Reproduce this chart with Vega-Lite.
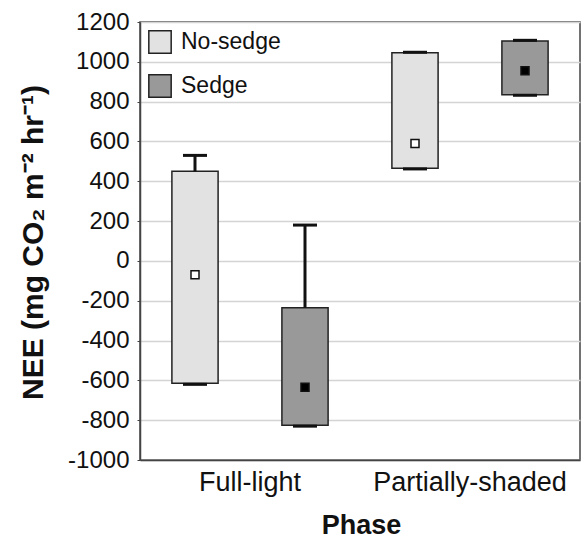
{
  "$schema": "https://vega.github.io/schema/vega-lite/v6.json",
  "width": 440,
  "height": 438,
  "autosize": "none",
  "padding": {"left": 140, "top": 22, "right": 1, "bottom": 82},
  "background": "white",
  "config": {
    "font": "Liberation Sans",
    "view": {"stroke": "#444", "strokeWidth": 1.5}
  },
  "data": {
    "values": [
      {"phase": "Full-light", "group": "No-sedge", "low": -620, "q1": -615, "mean": -70, "q3": 450, "high": 530},
      {"phase": "Full-light", "group": "Sedge", "low": -830, "q1": -825, "mean": -635, "q3": -235, "high": 180},
      {"phase": "Partially-shaded", "group": "No-sedge", "low": 462, "q1": 465, "mean": 590, "q3": 1045, "high": 1048},
      {"phase": "Partially-shaded", "group": "Sedge", "low": 832, "q1": 835, "mean": 955, "q3": 1105, "high": 1108}
    ]
  },
  "encoding": {
    "x": {
      "field": "phase", "type": "nominal",
      "scale": {"domain": ["Full-light", "Partially-shaded"], "paddingInner": 0, "paddingOuter": 0},
      "axis": {
        "title": "Phase", "labelAngle": 0, "labelFontSize": 27, "labelColor": "#111",
        "labelPadding": 9, "labelLimit": 400, "tickSize": 0, "domainColor": "#444", "domainWidth": 1.5,
        "titleFontSize": 27, "titleFontWeight": "bold", "titleColor": "#111",
        "titleBaseline": "alphabetic", "titleY": 73, "titleX": 221
      }
    },
    "xOffset": {
      "field": "group", "type": "nominal",
      "scale": {"domain": ["No-sedge", "Sedge"], "paddingInner": 0.58, "paddingOuter": 0.29}
    }
  },
  "layer": [
    {
      "mark": {"type": "bar", "stroke": "#222", "strokeWidth": 1.5},
      "encoding": {
        "y": {
          "field": "q1", "type": "quantitative",
          "scale": {"domain": [-1000, 1200], "nice": false, "zero": false},
          "axis": {
            "values": [-1000, -800, -600, -400, -200, 0, 200, 400, 600, 800, 1000, 1200],
            "tickCount": 20,
            "labelExpr": "'' + datum.value",
            "labelOverlap": false, "labelFlush": false,
            "title": "NEE (mg CO₂ m⁻² hr⁻¹)",
            "labelFontSize": 24, "labelColor": "#111", "labelPadding": 8,
            "tickSize": 3, "tickColor": "#444", "domainColor": "#444", "domainWidth": 1.5,
            "grid": true, "gridColor": "#d4d4d4", "gridWidth": 1.5,
            "titleFontSize": 30, "titleFontWeight": "bold", "titleColor": "#111",
            "titleAngle": -90, "titleAlign": "center", "titleBaseline": "middle",
            "titleX": -107, "titleY": 220
          }
        },
        "y2": {"field": "q3"},
        "fill": {
          "field": "group", "type": "nominal",
          "scale": {"domain": ["No-sedge", "Sedge"], "range": ["#e2e2e2", "#999999"]},
          "legend": {
            "title": null, "orient": "top-left", "offset": 8, "padding": 0,
            "symbolType": "square", "symbolSize": 500, "symbolStrokeColor": "#222",
            "symbolStrokeWidth": 1.5, "labelFontSize": 23, "labelColor": "#111",
            "labelOffset": 9, "rowPadding": 14
          }
        }
      }
    },
    {
      "mark": {"type": "rule", "strokeWidth": 3, "color": "#111"},
      "encoding": {"y": {"field": "q3", "type": "quantitative"}, "y2": {"field": "high"}}
    },
    {
      "mark": {"type": "rule", "strokeWidth": 3, "color": "#111"},
      "encoding": {"y": {"field": "low", "type": "quantitative"}, "y2": {"field": "q1"}}
    },
    {
      "mark": {"type": "tick", "size": 24, "thickness": 3, "color": "#111", "opacity": 1},
      "encoding": {"y": {"field": "high", "type": "quantitative"}}
    },
    {
      "mark": {"type": "tick", "size": 24, "thickness": 3, "color": "#111", "opacity": 1},
      "encoding": {"y": {"field": "low", "type": "quantitative"}}
    },
    {
      "mark": {"type": "point", "shape": "square", "size": 64, "stroke": "#111", "strokeWidth": 1.5, "filled": true, "opacity": 1},
      "encoding": {
        "y": {"field": "mean", "type": "quantitative"},
        "fill": {
          "field": "group", "type": "nominal",
          "scale": {"domain": ["No-sedge", "Sedge"], "range": ["#ffffff", "#000000"]},
          "legend": null
        }
      }
    }
  ],
  "resolve": {"scale": {"fill": "independent"}, "legend": {"fill": "independent"}}
}
